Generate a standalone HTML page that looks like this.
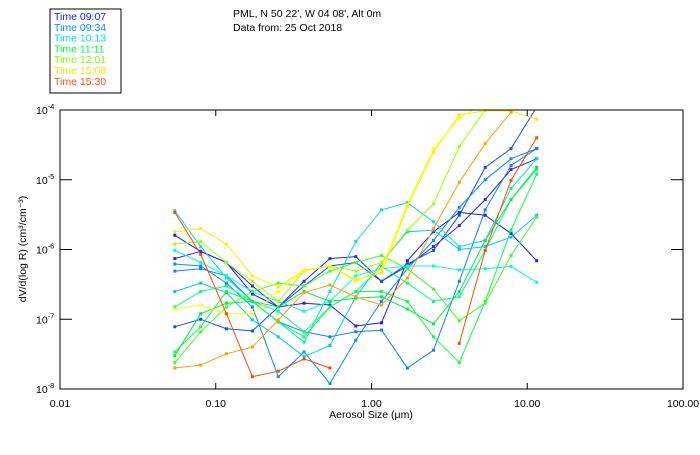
<!DOCTYPE html>
<html><head><meta charset="utf-8"><style>
body{margin:0;background:#fff;width:700px;height:450px;overflow:hidden}
text{font-family:"Liberation Sans",sans-serif}
</style></head><body>
<svg id="chart" width="700" height="450" xmlns="http://www.w3.org/2000/svg">
<rect x="50" y="9" width="71" height="84" fill="#fff" stroke="#000" stroke-width="1"/>
<g id="legend" font-size="10.5"></g>
<text x="233" y="17" font-size="10.5">PML, N 50 22', W 04 08', Alt 0m</text>
<text x="233" y="31" font-size="10.5">Data from: 25 Oct 2018</text>
<defs><clipPath id="clip"><rect x="60" y="110" width="623" height="279"/></clipPath></defs>
<g id="series" clip-path="url(#clip)"></g>
<rect x="60" y="110" width="623" height="279" fill="none" stroke="#000" stroke-width="1"/>
<g id="axes" font-size="10.5"></g>
<text x="371" y="418" font-size="10.5" text-anchor="middle">Aerosol Size (μm)</text>
<text transform="translate(26,249) rotate(-90)" font-size="10.5" text-anchor="middle">dV/d(log R) (cm³/cm⁻³)</text>
</svg>
<script>
const sizes = [0.0546,0.080,0.117,0.172,0.252,0.369,0.541,0.793,1.16,1.70,2.50,3.66,5.37,7.87,11.5];
const xTicks = [0.01,0.1,1,10,100];
const xTickLabels = ["0.01","0.10","1.00","10.00","100.00"];
const yTicks = [-8,-7,-6,-5,-4];
const legendLabels = ["Time 09:07","Time 09:34","Time 10:13","Time 11:11","Time 12:01","Time 15:08","Time 15:30"];
const legendColors = ["#1020ff","#0090ff","#00e0d0","#00ff40","#80ff00","#ffe000","#ff5000"];
const s1 = [1.6e-6,9.4e-7,6.5e-7,2.3e-7,1.5e-7,1.7e-7,1.6e-7,8.0e-8,8.9e-8,6.9e-7,1.8e-6,3.4e-6,3.1e-6,1.7e-6,6.9e-7];
const s2 = [7.4e-7,9.4e-7,6.5e-7,3.0e-7,1.5e-7,3.5e-7,7.4e-7,7.9e-7,3.5e-7,5.8e-7,1.1e-6,2.2e-6,5.2e-6,1.4e-5,2.0e-5];
const s3 = [7.8e-8,1.0e-7,7.3e-8,6.8e-8,1.5e-7,3.0e-7,5.8e-7,6.5e-7,3.5e-7,6.2e-7,9.7e-7,3.1e-6,1.5e-5,2.8e-5,1.1e-4];
const s4 = [6.2e-7,5.8e-7,3.3e-7,1.5e-7,1.5e-8,3.4e-8,1.2e-8,5.0e-8,1.8e-7,5.3e-7,1.35e-6,4.0e-6,1.0e-5,2.0e-5,2.8e-5];
const s5 = [4.9e-7,5.3e-7,4.2e-7,1.8e-7,9.2e-8,6.6e-8,5.6e-8,6.6e-8,7.0e-8,2.0e-8,3.6e-8,3.5e-7,3.7e-6,1.6e-5,2.8e-5];
const s6 = [2.5e-7,3.3e-7,2.4e-7,9.8e-8,5.6e-8,2.9e-8,4.2e-8,2.1e-7,6.5e-7,1.8e-6,1.9e-6,1.0e-6,1.1e-6,1.5e-6,3.1e-6];
const s7 = [3.6e-6,1.1e-6,3.9e-7,1.8e-7,9.2e-8,4.7e-8,2.5e-7,1.3e-6,3.7e-6,4.7e-6,2.5e-6,1.1e-6,1.35e-6,7.5e-6,2.0e-5];
const s8 = [9.7e-7,6.5e-7,4.2e-7,2.5e-7,1.8e-7,1.3e-7,1.8e-7,4.2e-7,5.3e-7,5.8e-7,5.8e-7,5.1e-7,5.3e-7,5.7e-7,3.4e-7];
const s9 = [1.5e-7,2.5e-7,3.0e-7,1.8e-7,1.3e-7,6.6e-8,1.5e-7,2.5e-7,5.7e-7,3.3e-7,1.8e-7,2.1e-7,9.7e-7,5.2e-6,1.4e-5];
const s10 = [3.4e-8,7.8e-8,2.5e-7,1.8e-7,9.2e-8,5.6e-8,1.5e-7,2.5e-7,2.5e-7,1.8e-7,5.6e-8,2.4e-8,1.8e-7,1.9e-6,1.2e-5];
const s11 = [3.0e-8,1.2e-7,1.7e-7,1.8e-7,1.5e-7,2.5e-7,1.8e-7,2.0e-7,2.1e-7,1.4e-7,8.6e-8,2.5e-7,1.35e-6,5.2e-6,1.5e-5];
const s12 = [2.4e-8,6.6e-8,1.5e-7,2.5e-7,3.3e-7,3.0e-7,4.9e-7,6.5e-7,8.2e-7,5.3e-7,2.7e-7,9.5e-8,1.7e-7,8.2e-7,2.9e-6];
const s13 = [1.2e-6,1.3e-6,6.5e-7,3.5e-7,1.8e-7,4.9e-7,5.8e-7,4.9e-7,6.5e-7,1.9e-6,4.5e-6,3.0e-5,1.0e-4,1.8e-4,2.1e-4];
const s14 = [1.8e-6,2.0e-6,1.2e-6,4.2e-7,2.9e-7,5.1e-7,5.7e-7,3.7e-7,4.6e-7,4.1e-6,2.5e-5,8.5e-5,9.7e-5,9.7e-5,7.4e-5];
const s15 = [1.4e-7,1.6e-7,1.2e-7,1.2e-7,2.5e-7,4.9e-7,5.8e-7,3.5e-7,5.3e-7,4.4e-6,2.8e-5,7.6e-5,1.3e-4,1.5e-4,1.1e-4];
const s16 = [2.0e-8,2.2e-8,3.2e-8,4.0e-8,9.8e-8,2.4e-7,3.1e-7,2.1e-7,1.6e-7,3.9e-7,2.0e-6,9.2e-6,3.3e-5,9.3e-5,null];
const s17 = [3.4e-6,8.5e-7,1.2e-7,1.5e-8,1.8e-8,2.7e-8,2.0e-8,null,null,null,null,4.5e-8,9.7e-7,9.8e-6,4.0e-5];
const seriesValues = [s1,s2,s3,s4,s5,s6,s7,s8,s9,s10,s11,s12,s13,s14,s15,s16,s17];
const seriesColors = ["#1a1aff","#2828e8","#0a50ff","#0090ff","#1080ff","#00c8ff","#00e0e0","#00ffd8","#00ff80","#10ff40","#00f040","#40ff20","#a0ff00","#ffe800","#ffff00","#ffa000","#ff4800"];

const NS="http://www.w3.org/2000/svg";
const X0=60,X1=683,Y0=389,Y1=110;
function xScale(v){return X0+(Math.log10(v)+2)/4*(X1-X0);}
function yScale(v){return Y0-(Math.log10(v)+8)/4*(Y0-Y1);}
function mk(tag,attrs,parent){const e=document.createElementNS(NS,tag);for(const k in attrs)e.setAttribute(k,attrs[k]);parent.appendChild(e);return e;}

const lg=document.getElementById('legend');
legendLabels.forEach((l,i)=>{
  const t=mk('text',{x:54,y:20+i*10.8,fill:legendColors[i]},lg);
  t.textContent=l;
  
  
});

const ax=document.getElementById('axes');
xTicks.forEach((v,i)=>{
  const x=xScale(v);
  if(i>0&&i<xTicks.length-1){
    const a=mk('line',{x1:x,x2:x,y1:Y0,y2:Y0-6,stroke:'#000'},ax);
    
    
    const b=mk('line',{x1:x,x2:x,y1:Y1,y2:Y1+6,stroke:'#000'},ax);
    
    
  }
  const t=mk('text',{x:x,y:407,'text-anchor':'middle'},ax);
  t.textContent=xTickLabels[i];
  
  
});
yTicks.forEach((p,i)=>{
  const y=yScale(Math.pow(10,p));
  if(i>0&&i<yTicks.length-1){
    const a=mk('line',{x1:X0,x2:X0+12,y1:y,y2:y,stroke:'#000'},ax);
    
    
    const b=mk('line',{x1:X1,x2:X1-12,y1:y,y2:y,stroke:'#000'},ax);
    
    
  }
  const t=mk('text',{x:36,y:y+4},ax);
  t.textContent='10';
  const s=mk('tspan',{dy:-5,'font-size':'7.5'},t);
  s.textContent=String(p);
  
  
});

const sg=document.getElementById('series');
seriesValues.forEach((vals,si)=>{
  const g=mk('g',{},sg);
  
  
  let d='',pen=false;
  vals.forEach((v,i)=>{
    if(v==null){pen=false;return;}
    d+=(pen?'L':'M')+xScale(sizes[i]).toFixed(1)+' '+yScale(v).toFixed(1)+' ';
    pen=true;
  });
  const p=mk('path',{d:d,fill:'none',stroke:seriesColors[si],'stroke-width':1},g);
  
  
  vals.forEach((v,i)=>{
    if(v==null)return;
    const r=mk('rect',{x:xScale(sizes[i])-1.5,y:yScale(v)-1.5,width:3,height:3,fill:seriesColors[si]},g);
    
    
  });
});
</script>
</body></html>
